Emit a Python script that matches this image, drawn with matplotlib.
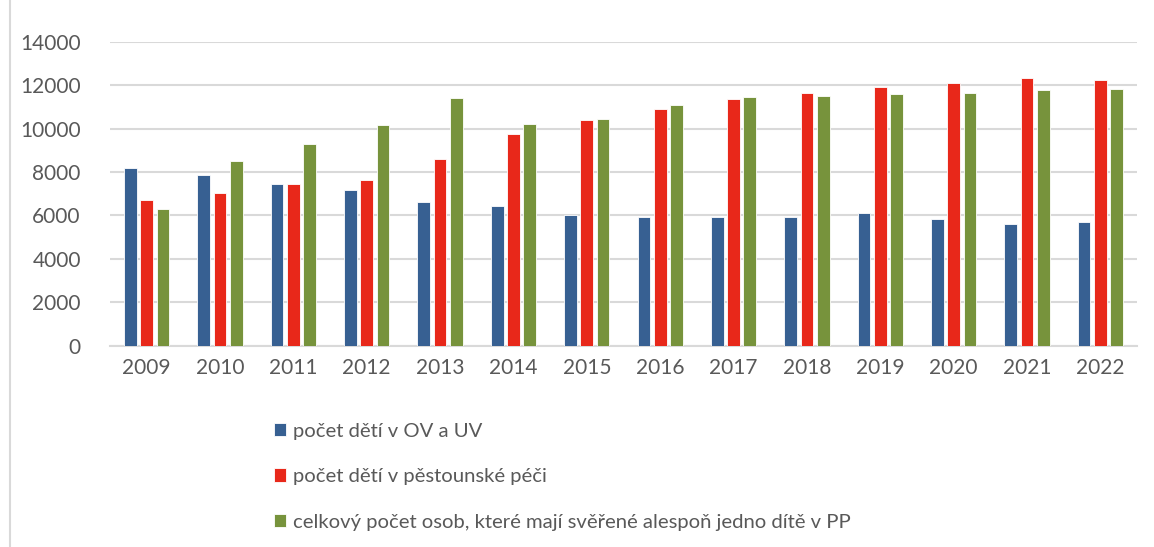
import numpy as np
import matplotlib
matplotlib.use("Agg")
import matplotlib.pyplot as plt
from matplotlib.lines import Line2D

years = [str(y) for y in range(2009, 2023)]
ov_uv = [8170, 7860, 7460, 7170, 6620, 6450, 6020, 5930, 5930, 5910, 6090, 5820, 5620, 5700]
pestounska = [6710, 7020, 7450, 7630, 8600, 9760, 10380, 10920, 11340, 11640, 11910, 12100, 12340, 12250]
osoby = [6290, 8490, 9290, 10160, 11410, 10220, 10450, 11070, 11440, 11510, 11610, 11650, 11770, 11810]

labels = ["počet dětí v OV a UV",
          "počet dětí v pěstounské péči",
          "celkový počet osob, které mají svěřené alespoň jedno dítě v PP"]
colors = ["#376092", "#E8281A", "#77933C"]

plt.rcParams['font.family'] = ['Lato', 'DejaVu Sans']
txt = "#595959"

fig = plt.figure(figsize=(11.54, 5.47), dpi=100)
ax = fig.add_axes([0.0953, 0.368, 0.89, 0.5558])

x = np.arange(len(years))
w = 0.173
off = 0.222
bars = []
for i, (vals, c) in enumerate(zip([ov_uv, pestounska, osoby], colors)):
    b = ax.bar(x + (i - 1) * off, vals, width=w, color=c, edgecolor="white",
               linewidth=0.6, zorder=3, label=labels[i])
    bars.append(b)

ax.set_xlim(-0.5, len(years) - 0.5)
ax.set_ylim(0, 14000)
ax.set_yticks(range(0, 14001, 2000))
ax.set_xticks(x)
ax.set_xticklabels(years)
ax.grid(axis="y", color="#D9D9D9", linewidth=1.5, zorder=0)
for s in ["top", "right", "left"]:
    ax.spines[s].set_visible(False)
ax.spines["bottom"].set_color("#D9D9D9")
ax.spines["bottom"].set_linewidth(1.5)
ax.tick_params(length=0, labelsize=15, colors=txt, pad=9)
ax.tick_params(axis="y", pad=21)

fig.legend(handles=bars, labels=labels, loc="upper left",
           bbox_to_anchor=(0.2305, 0.242), frameon=False, fontsize=14.6,
           labelcolor=txt, handlelength=0.6, handleheight=0.65,
           handletextpad=0.35, labelspacing=1.4, borderaxespad=0)

# chart border remnant on the left
fig.add_artist(Line2D([10 / 1154, 10 / 1154], [0, 1], color="#D9D9D9", linewidth=1.5))

fig.savefig("out.png", dpi=100)
